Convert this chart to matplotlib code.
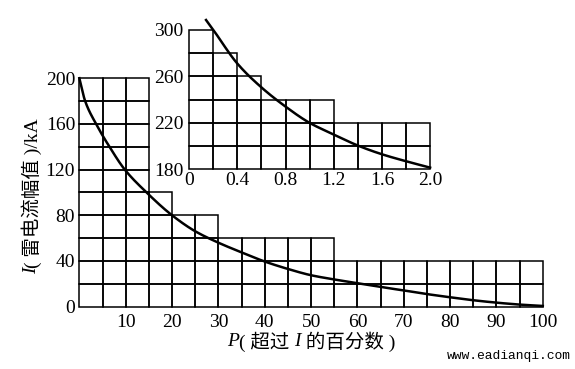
import matplotlib
matplotlib.use("Agg")
import matplotlib.pyplot as plt
from matplotlib.patches import Rectangle
import numpy as np

# ---------------- data ----------------
main_step_edges = [0, 15, 20, 30, 55, 100]
main_step_heights = [200, 100, 80, 60, 40]
main_cell_w, main_cell_h = 5, 20
main_curve_x = [0, 1.25, 3.6, 6.5, 9.8, 14.5, 20, 25, 30, 35, 40, 45, 50, 55, 60, 65, 70, 75, 80, 85, 90, 95, 100]
main_curve_y = [200, 180, 160, 140, 120, 100, 80, 66, 56, 47.5, 39.5, 33, 27.5, 23.8, 20.5, 17.2, 14.2, 11, 8.2, 5.6, 3.5, 1.8, 0.6]
main_xticks = [10, 20, 30, 40, 50, 60, 70, 80, 90, 100]
main_yticks = [0, 40, 80, 120, 160, 200]

inset_step_edges = [0, 0.2, 0.4, 0.6, 1.2, 2.0]
inset_step_heights = [300, 280, 260, 240, 220]
inset_base = 180
inset_cell_w, inset_cell_h = 0.2, 20
inset_curve_x = [0.14, 0.2, 0.4, 0.6, 0.8, 1.0, 1.2, 1.4, 1.6, 1.8, 2.0]
inset_curve_y = [308.5, 300, 271, 250.5, 234, 220, 210, 200.5, 193, 187, 181.5]
inset_xticks = [0, 0.4, 0.8, 1.2, 1.6, 2.0]
inset_xlabels = ["0", "0.4", "0.8", "1.2", "1.6", "2.0"]
inset_yticks = [180, 220, 260, 300]

SERIF = "Liberation Serif"
CJK = ["Liberation Serif", "Noto Sans CJK SC"]
FS = 14

fig = plt.figure(figsize=(5.75, 3.69), dpi=100)
fig.patch.set_facecolor("white")


def smooth(xs, ys, n=500):
    """Monotone cubic (Fritsch-Carlson) through the read points, for drawing."""
    x = np.asarray(xs, float)
    y = np.asarray(ys, float)
    h = np.diff(x)
    d = np.diff(y) / h
    m = np.zeros_like(y)
    m[0], m[-1] = d[0], d[-1]
    for k in range(1, len(x) - 1):
        if d[k - 1] * d[k] <= 0:
            m[k] = 0
        else:
            w1 = 2 * h[k] + h[k - 1]
            w2 = h[k] + 2 * h[k - 1]
            m[k] = (w1 + w2) / (w1 / d[k - 1] + w2 / d[k])
    xx = np.linspace(x[0], x[-1], n)
    idx = np.clip(np.searchsorted(x, xx) - 1, 0, len(x) - 2)
    t = (xx - x[idx]) / h[idx]
    h00 = 2 * t**3 - 3 * t**2 + 1
    h10 = t**3 - 2 * t**2 + t
    h01 = -2 * t**3 + 3 * t**2
    h11 = t**3 - t**2
    yy = h00 * y[idx] + h10 * h[idx] * m[idx] + h01 * y[idx + 1] + h11 * h[idx] * m[idx + 1]
    return xx, yy


def draw_cells(ax, edges, heights, base, cw, ch):
    for x0, x1, h in zip(edges[:-1], edges[1:], heights):
        nx = int(round((x1 - x0) / cw))
        ny = int(round((h - base) / ch))
        for i in range(nx):
            for j in range(ny):
                ax.add_patch(Rectangle((x0 + i * cw, base + j * ch), cw, ch,
                                       fill=False, edgecolor="black", lw=1.1,
                                       clip_on=False))


def style_ticks(a):
    for lab in a.get_xticklabels() + a.get_yticklabels():
        lab.set_fontfamily(SERIF)
        lab.set_fontsize(FS)


# ---------------- main axes ----------------
ax = fig.add_axes([0.138, 0.169, 0.806, 0.619])
ax.set_xlim(0, 100)
ax.set_ylim(0, 200)
draw_cells(ax, main_step_edges, main_step_heights, 0, main_cell_w, main_cell_h)
sx, sy = smooth(main_curve_x, main_curve_y)
ax.plot(sx, sy, color="black", lw=1.8, clip_on=False, zorder=5)
for s in ax.spines.values():
    s.set_visible(False)
ax.set_xticks(main_xticks)
ax.set_yticks(main_yticks)
ax.tick_params(axis="x", length=0, pad=5)
ax.tick_params(axis="y", length=0, pad=3)
style_ticks(ax)
ax.set_facecolor("none")

# ---------------- inset axes ----------------
ai = fig.add_axes([0.329, 0.541, 0.419, 0.378])
ai.set_xlim(0, 2.0)
ai.set_ylim(180, 300)
draw_cells(ai, inset_step_edges, inset_step_heights, inset_base, inset_cell_w, inset_cell_h)
sx, sy = smooth(inset_curve_x, inset_curve_y)
ai.plot(sx, sy, color="black", lw=1.8, clip_on=False, zorder=5)
for s in ai.spines.values():
    s.set_visible(False)
ai.set_xticks(inset_xticks)
ai.set_xticklabels(inset_xlabels)
ai.set_yticks(inset_yticks)
ai.tick_params(axis="x", length=0, pad=2)
ai.tick_params(axis="y", length=0, pad=4)
style_ticks(ai)
ai.set_facecolor("none")

# ---------------- composite labels ----------------
renderer = fig.canvas.get_renderer()


def hlabel(pieces, x_center, y, fs):
    texts = []
    for s, it in pieces:
        t = fig.text(0, y, s, fontsize=fs, family=CJK,
                     style="italic" if it else "normal", va="center", ha="left")
        texts.append(t)
    widths = [t.get_window_extent(renderer).width / fig.bbox.width for t in texts]
    x = x_center - sum(widths) / 2
    for t, w in zip(texts, widths):
        t.set_x(x)
        x += w


def vlabel(pieces, x, y_center, fs):
    texts = []
    for s, it in pieces:
        t = fig.text(x, 0, s, fontsize=fs, family=CJK, rotation=90,
                     style="italic" if it else "normal", va="bottom", ha="center")
        texts.append(t)
    heights = [t.get_window_extent(renderer).height / fig.bbox.height for t in texts]
    y = y_center - sum(heights) / 2
    for t, h in zip(texts, heights):
        t.set_y(y)
        y += h


hlabel([("P", True), ("( 超过 ", False), ("I", True), (" 的百分数 )", False)],
       311 / 575, 1 - 342 / 369, FS)
vlabel([("I", True), ("( 雷电流幅值 )/kA", False)], 32 / 575, 1 - 196 / 369, FS)

fig.text(571 / 575, 1 - 356 / 369, "www.eadianqi.com", family="Liberation Mono",
         fontsize=9.4, ha="right", va="center")

fig.savefig("out.png", dpi=100, facecolor="white")
